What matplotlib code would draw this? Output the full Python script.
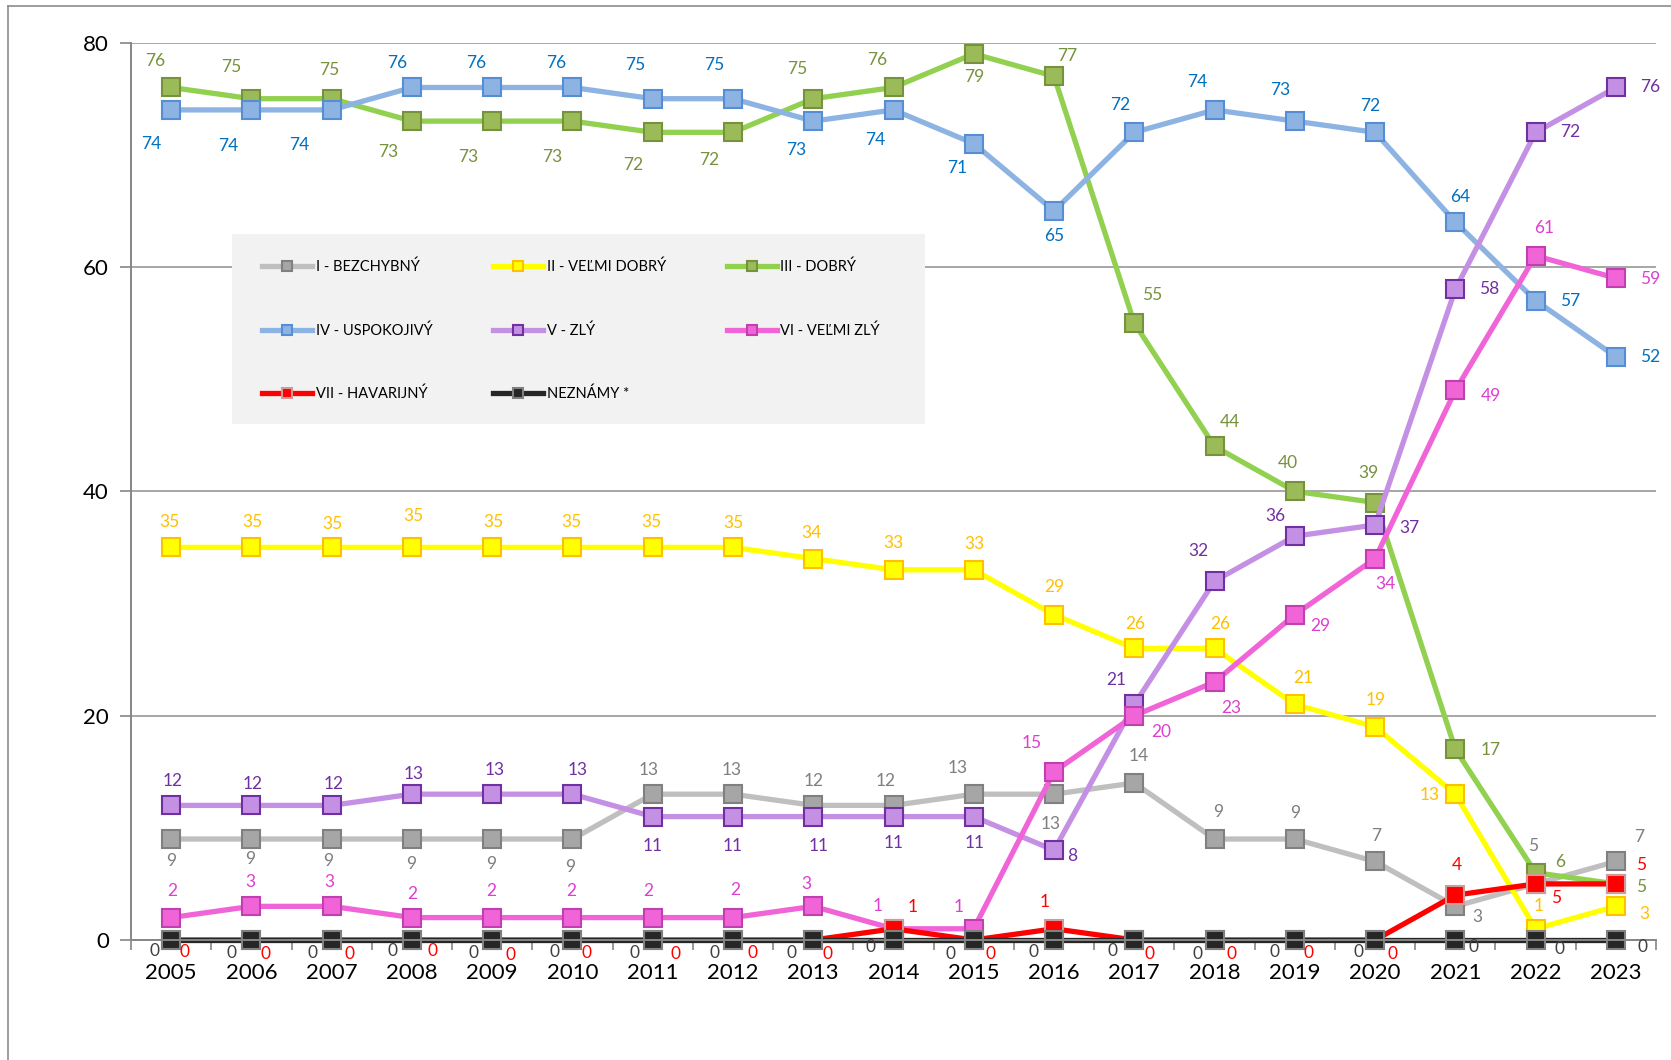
import matplotlib
matplotlib.use("Agg")
import matplotlib.pyplot as plt
from matplotlib.lines import Line2D
from matplotlib.patches import Rectangle

years = [str(y) for y in range(2005, 2024)]
y_ticks = [0, 20, 40, 60, 80]

labels = ["I - BEZCHYBNÝ", "II - VEĽMI DOBRÝ", "III - DOBRÝ", "IV - USPOKOJIVÝ",
          "V - ZLÝ", "VI - VEĽMI ZLÝ", "VII - HAVARIJNÝ", "NEZNÁMY *"]

s1_bezchybny = [9, 9, 9, 9, 9, 9, 13, 13, 12, 12, 13, 13, 14, 9, 9, 7, 3, 5, 7]
s2_velmi_dobry = [35, 35, 35, 35, 35, 35, 35, 35, 34, 33, 33, 29, 26, 26, 21, 19, 13, 1, 3]
s3_dobry = [76, 75, 75, 73, 73, 73, 72, 72, 75, 76, 79, 77, 55, 44, 40, 39, 17, 6, 5]
s4_uspokojivy = [74, 74, 74, 76, 76, 76, 75, 75, 73, 74, 71, 65, 72, 74, 73, 72, 64, 57, 52]
s5_zly = [12, 12, 12, 13, 13, 13, 11, 11, 11, 11, 11, 8, 21, 32, 36, 37, 58, 72, 76]
s6_velmi_zly = [2, 3, 3, 2, 2, 2, 2, 2, 3, 1, 1, 15, 20, 23, 29, 34, 49, 61, 59]
s7_havarijny = [0, 0, 0, 0, 0, 0, 0, 0, 0, 1, 0, 1, 0, 0, 0, 0, 4, 5, 5]
s8_neznamy = [0] * 19

series = [s1_bezchybny, s2_velmi_dobry, s3_dobry, s4_uspokojivy,
          s5_zly, s6_velmi_zly, s7_havarijny, s8_neznamy]

# styles: line color, marker face, marker edge, label color
styles = [
    ("#bfbfbf", "#a6a6a6", "#808080", "#7f7f7f"),
    ("#ffff00", "#ffff00", "#ffc000", "#ffc000"),
    ("#92d050", "#9bbb59", "#76923c", "#76923c"),
    ("#8db3e2", "#8db3e2", "#558ed5", "#0070c0"),
    ("#c490e4", "#c490e4", "#7030a0", "#7030a0"),
    ("#f064d8", "#f064d8", "#c040b0", "#dd3fcf"),
    ("#ff0000", "#ff0000", "#d09a9a", "#ff0000"),
    ("#262626", "#262626", "#808080", "#404040"),
]

# label offsets (dx, dy) in reference pixels, dy downward
offsets = [
    [(0,21),(-1,19),(-3,21),(-1,23),(-1,23),(-2,26),(-4,-23),(-1,-23),(0,-23),(-7,-23),
     (-15,-25),(-3,28),(4,-25),(3,-25),(0,-24),(1,-24),(21,10),(-2,-36),(22,-23)],
    [(-2,-24),(1,-24),(1,-22),(1,-29),(1,-24),(-1,-24),(-1,-24),(0,-23),(-2,-24),(0,-25),
     (1,-24),(0,-26),(1,-23),(5,-23),(8,-25),(1,-25),(-24,1),(3,-21),(27,7)],
    [(-15,-25),(-19,-30),(-2,-27),(-22,29),(-22,34),(-19,34),(-18,31),(-22,26),(-15,-28),(-15,-26),
     (0,22),(12,-19),(17,-26),(14,-23),(-7,-27),(-6,-28),(33,1),(23,-10),(24,3)],
    [(-19,32),(-22,34),(-30,33),(-14,-23),(-15,-23),(-15,-23),(-16,-32),(-18,-32),(-16,27),(-17,28),
     (-16,23),(0,24),(-13,-26),(-16,-26),(-14,-29),(-5,-25),(5,-24),(32,0),(32,0)],
    [(1,-23),(1,-20),(2,-20),(2,-19),(2,-23),(5,-23),(0,28),(0,28),(5,28),(0,25),
     (1,25),(17,5),(-17,-23),(-15,-28),(-18,-19),(32,3),(32,0),(32,0),(32,0)],
    [(1,-25),(-1,-23),(-2,-23),(0,-22),(-1,-25),(-1,-25),(-4,-25),(2,-26),(-6,-21),(-15,-21),
     (-14,-20),(-21,-27),(25,15),(16,24),(24,11),(10,24),(33,5),(8,-26),(32,1)],
    [(13,11),(13,13),(17,13),(19,10),(17,14),(13,12),(21,13),(18,12),(13,13),(18,-20),
     (16,13),(-9,-25),(14,13),(16,13),(13,12),(16,13),(1,-28),(19,13),(24,-18)],
    [(-16,10),(-19,12),(-18,12),(-18,10),(-18,12),(-17,11),(-17,12),(-17,12),(-20,12),(-22,7),
     (-22,13),(-19,11),(-20,10),(-16,13),(-19,11),(-16,11),(17,7),(22,8),(25,7)],
]

FONT = ["Lato", "DejaVu Sans"]
plt.rcParams["font.family"] = FONT

W, H = 1671, 1060
DPI = 100
fig = plt.figure(figsize=(W / DPI, H / DPI), dpi=DPI)
ax = fig.add_axes([131 / W, 1 - 940 / H, (1656 - 131) / W, (940 - 42.6) / H])

x = list(range(len(years)))
PT = 1.0657 * 0.72  # reference px -> points

handles = []
for s, st, offs, lab in zip(series, styles, offsets, labels):
    lc, mf, me, tc = st
    ln, = ax.plot(x, s, color=lc, lw=3.8, marker="s", ms=13, mfc=mf, mec=me, mew=1.5,
                  clip_on=False, solid_joinstyle="round", label=lab)
    handles.append(ln)
    for xi, v, (dx, dy) in zip(x, s, offs):
        ax.annotate(str(v), (xi, v), xytext=(dx * PT, -dy * PT), textcoords="offset points",
                    ha="center", va="center", fontsize=12.5, color=tc, annotation_clip=False)

ax.set_xlim(-0.5, len(years) - 0.5)
ax.set_ylim(0, 80)
ax.set_yticks(y_ticks)
ax.set_yticklabels([str(t) for t in y_ticks], fontsize=16)
ax.set_xticks(x)
ax.set_xticklabels(years, fontsize=16)
ax.set_xticks([i - 0.5 for i in range(len(years) + 1)], minor=True)
ax.tick_params(axis="x", which="major", length=0, pad=16.5)
ax.tick_params(axis="x", which="minor", length=7, width=1.2, color="#868686", direction="out")
ax.tick_params(axis="y", length=8, width=1.2, color="#868686", pad=8)
ax.grid(axis="y", color="#a6a6a6", lw=1.4)
ax.set_axisbelow(True)
for sp in ["top", "right"]:
    ax.spines[sp].set_visible(False)
for sp in ["left", "bottom"]:
    ax.spines[sp].set_color("#868686")
    ax.spines[sp].set_linewidth(1.4)

# legend box
fig.patches.append(Rectangle((232 / W, 1 - 424 / H), (925 - 232) / W, (424 - 234) / H,
                             transform=fig.transFigure, facecolor="#f2f2f2", edgecolor="none",
                             zorder=3))
LEG_FS = 10.5
fs_px = LEG_FS * DPI / 72
handle_px = 50
pad_fr = 0.25
renderer = fig.canvas.get_renderer()
widest = 0
for t in ["IV - USPOKOJIVÝ", "VII - HAVARIJNÝ", "I - BEZCHYBNÝ"]:
    tt = fig.text(0, 0, t, fontsize=LEG_FS)
    widest = max(widest, tt.get_window_extent(renderer).width)
    tt.remove()
colsp = (231 - handle_px - pad_fr * fs_px - widest) / fs_px

order = [0, 3, 6, 1, 4, 7, 2, 5]
leg = fig.legend([handles[i] for i in order], [labels[i] for i in order], ncol=3,
                 loc="upper left", bbox_to_anchor=(255 / W, 1 - 252.5 / H), frameon=False,
                 fontsize=LEG_FS, handlelength=handle_px / fs_px, handletextpad=pad_fr,
                 columnspacing=colsp, labelspacing=3.36, markerscale=0.6, borderpad=0)
leg.set_zorder(4)

# outer chart border
fig.add_artist(Line2D([7.5 / W, 7.5 / W], [0, 1 - 6.4 / H], transform=fig.transFigure,
                      color="#8c8c8c", lw=1.2))
fig.add_artist(Line2D([7.5 / W, 1], [1 - 6.4 / H, 1 - 6.4 / H], transform=fig.transFigure,
                      color="#8c8c8c", lw=1.2))

fig.savefig("out.png", dpi=DPI)
